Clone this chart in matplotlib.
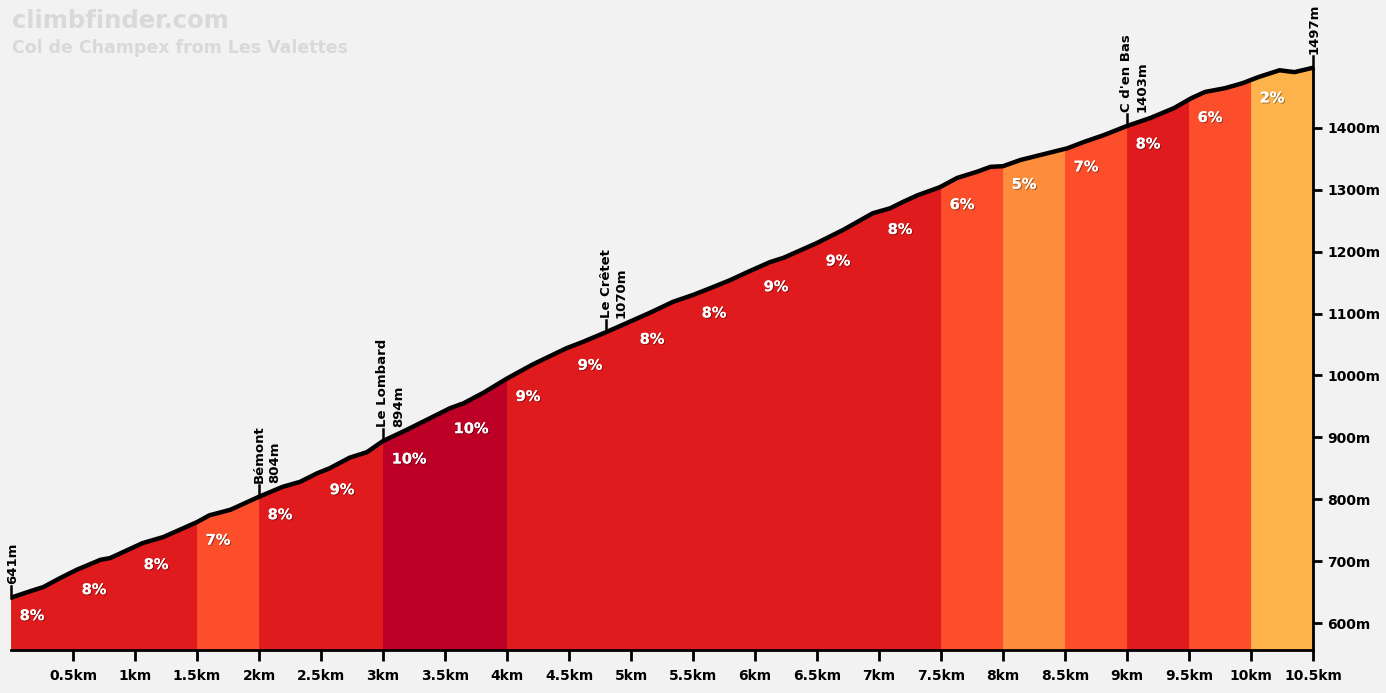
import numpy as np
import matplotlib
matplotlib.use("Agg")
import matplotlib.pyplot as plt
import matplotlib.patheffects as pe

# ---- data ----
dist_km = [0, 0.18, 0.26, 0.4, 0.53, 0.72, 0.8, 1.06, 1.23, 1.5, 1.6, 1.77, 2.0, 2.19, 2.33,
           2.47, 2.57, 2.73, 2.87, 3.0, 3.19, 3.35, 3.54, 3.65, 3.81, 4.0, 4.21, 4.48, 4.61,
           4.8, 4.97, 5.15, 5.34, 5.5, 5.64, 5.8, 5.94, 6.12, 6.23, 6.5, 6.71, 6.95, 7.09,
           7.19, 7.31, 7.49, 7.63, 7.79, 7.9, 8.0, 8.14, 8.3, 8.52, 8.65, 8.81, 9.0, 9.19,
           9.38, 9.52, 9.63, 9.79, 9.93, 10.06, 10.23, 10.35, 10.5]
elev_m = [641, 653, 658, 673, 686, 702, 705, 729, 739, 763, 774, 783, 804, 820, 828,
          842, 850, 867, 876, 894, 912, 928, 947, 955, 972, 995, 1018, 1044, 1054,
          1070, 1085, 1101, 1119, 1130, 1141, 1154, 1167, 1183, 1190, 1214, 1235, 1262, 1270,
          1280, 1291, 1304, 1319, 1329, 1337, 1338, 1348, 1356, 1367, 1377, 1388, 1403, 1416,
          1432, 1448, 1458, 1464, 1472, 1482, 1493, 1490, 1497]

seg_start = [0, 0.5, 1, 1.5, 2, 2.5, 3, 3.5, 4, 4.5, 5, 5.5, 6, 6.5, 7, 7.5, 8, 8.5, 9, 9.5, 10]
seg_grade = [8, 8, 8, 7, 8, 9, 10, 10, 9, 9, 8, 8, 9, 9, 8, 6, 5, 7, 8, 6, 2]
seg_len = 0.5

markers_km = [0, 2.0, 3.0, 4.8, 9.0, 10.5]
markers_name = ["", "Bémont", "Le Lombard", "Le Crêtet", "C d'en Bas", ""]
markers_elev = [641, 804, 894, 1070, 1403, 1497]

yticks = [600, 700, 800, 900, 1000, 1100, 1200, 1300, 1400]
xticks = [0.5, 1, 1.5, 2, 2.5, 3, 3.5, 4, 4.5, 5, 5.5, 6, 6.5, 7, 7.5, 8, 8.5, 9, 9.5, 10, 10.5]
xtick_labels = ["0.5km", "1km", "1.5km", "2km", "2.5km", "3km", "3.5km", "4km", "4.5km", "5km",
                "5.5km", "6km", "6.5km", "7km", "7.5km", "8km", "8.5km", "9km", "9.5km", "10km", "10.5km"]

title1 = "climbfinder.com"
title2 = "Col de Champex from Les Valettes"

def grade_color(g):
    if g >= 10:
        return "#bd0026"
    if g >= 8:
        return "#e01b1e"
    if g >= 6:
        return "#fc4e2a"
    if g >= 4:
        return "#fd8d3c"
    return "#feb24c"

plt.rcParams['font.family'] = ['DejaVu Sans']
bg = "#f2f2f2"
fig = plt.figure(figsize=(13.86, 6.93), dpi=100, facecolor=bg)
ymin, ymax = 556.4, 1606.5
ax = fig.add_axes([11/1386, 43/693, 1302/1386, 650/693])
ax.set_facecolor(bg)
ax.set_xlim(0, 10.5)
ax.set_ylim(ymin, ymax)

x = np.array(dist_km)
y = np.array(elev_m)
for s, g in zip(seg_start, seg_grade):
    e = s + seg_len
    xs = np.concatenate([[s], x[(x > s) & (x < e)], [e]])
    ys = np.interp(xs, x, y)
    c = grade_color(g)
    ax.fill_between(xs, ymin, ys, facecolor=c, edgecolor=c, lw=0.6, zorder=1)
    ax.text(s + 0.07, np.interp(s, x, y) - 29, f"{g}%", color="white", fontsize=10.5,
            fontweight="bold", ha="left", va="center", zorder=4,
            path_effects=[pe.withSimplePatchShadow(offset=(0.8, -0.8), shadow_rgbFace="black", alpha=0.35),
                          pe.Normal()])

ax.plot(x, y, color="black", lw=3.2, solid_capstyle="round", solid_joinstyle="round", zorder=3)

for km, name, el in zip(markers_km, markers_name, markers_elev):
    ax.plot([km, km], [el, el + 19], color="black", lw=1.8, zorder=3, clip_on=False)
    if name:
        ax.annotate(name, (km, el + 22), xytext=(0, 0), textcoords="offset points",
                    rotation=90, ha="center", va="bottom", fontsize=9.5, fontweight="bold",
                    color="black", annotation_clip=False)
        ax.annotate(f"{el}m", (km, el + 22), xytext=(11, 0), textcoords="offset points",
                    rotation=90, ha="center", va="bottom", fontsize=9.5, fontweight="bold",
                    color="black", annotation_clip=False)
    else:
        ax.annotate(f"{el}m", (km, el + 22), xytext=(1, 0), textcoords="offset points",
                    rotation=90, ha="center", va="bottom", fontsize=9.5, fontweight="bold",
                    color="black", annotation_clip=False)

for sp in ["left", "top"]:
    ax.spines[sp].set_visible(False)
ax.spines["bottom"].set_linewidth(2)
ax.spines["right"].set_linewidth(2)
ax.spines["right"].set_bounds(ymin, markers_elev[-1])
ax.spines["bottom"].set_zorder(5)
ax.spines["right"].set_zorder(5)
ax.yaxis.tick_right()
ax.set_yticks(yticks)
ax.set_yticklabels([f"{v}m" for v in yticks])
ax.set_xticks(xticks)
ax.set_xticklabels(xtick_labels)
ax.tick_params(axis="x", length=8, width=2, pad=6, labelsize=10)
ax.tick_params(axis="y", length=6.5, width=2, pad=4, labelsize=10)
for lab in ax.get_xticklabels() + ax.get_yticklabels():
    lab.set_fontweight("bold")

fig.text(12/1386, 1 - 9/693, title1, fontsize=17.5, fontweight="bold", color="#d9d9d9",
         ha="left", va="top")
fig.text(12/1386, 1 - 39/693, title2, fontsize=12.5, fontweight="bold", color="#d9d9d9",
         ha="left", va="top")

fig.savefig("out.png", dpi=100, facecolor=bg)
